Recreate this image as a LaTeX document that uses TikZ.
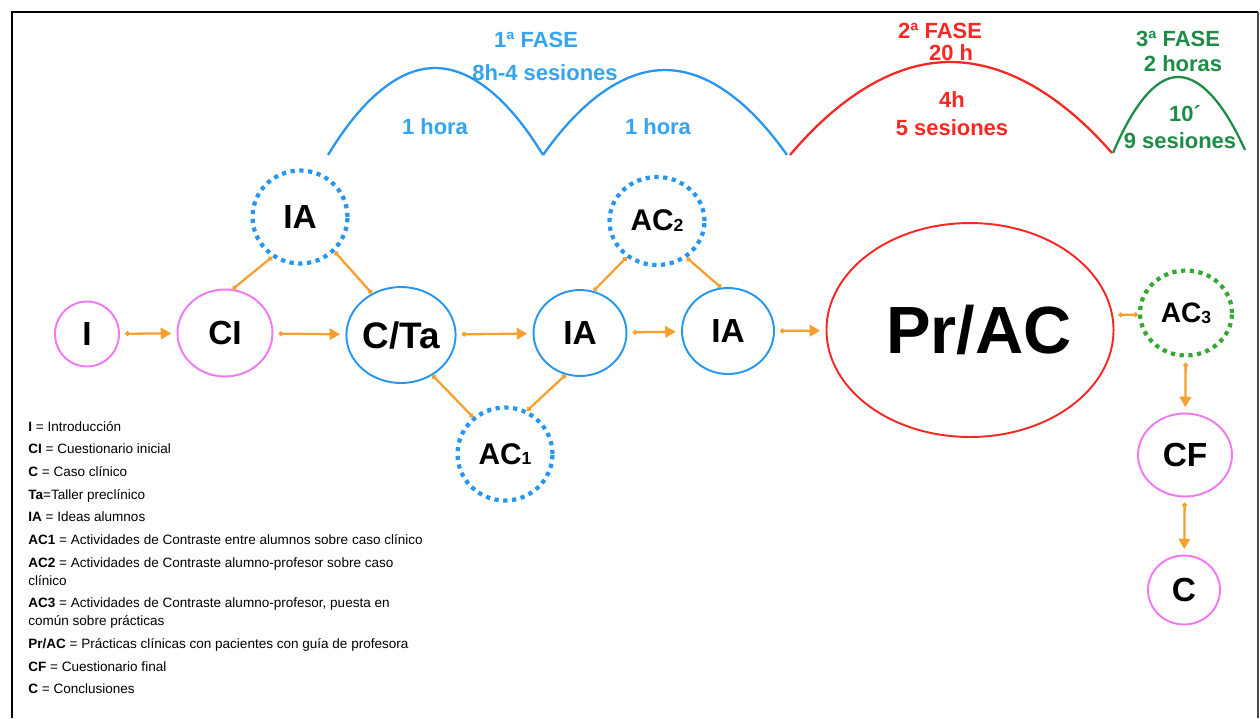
\documentclass[tikz,border=0pt]{standalone}
\usepackage{fontspec}
\setmainfont{Liberation Sans}
\usepackage{tikz}
\usetikzlibrary{shapes.geometric}
\usetikzlibrary{arrows.meta}
\usetikzlibrary{positioning}

\definecolor{naranja}{RGB}{247,160,48}
\definecolor{azul}{RGB}{38,150,240}
\definecolor{azultxt}{RGB}{52,163,240}
\definecolor{rojo}{RGB}{245,40,35}
\definecolor{verde}{RGB}{30,140,70}
\definecolor{verdecl}{RGB}{50,170,50}
\definecolor{rosa}{RGB}{240,120,240}

\newcommand{\subi}[1]{\raisebox{-0.5pt}{\fontsize{10}{10}\selectfont #1}}

\begin{document}
\begin{tikzpicture}[x=0.02cm, y=-0.02cm,
	nodo/.style={ellipse, draw, line width=1.1pt, inner sep=0pt, font=\fontsize{19}{19}\selectfont\bfseries},
	punteado/.style={ellipse, draw, line width=2.4pt, dash pattern=on 2.4pt off 2.6pt, inner sep=0pt, font=\fontsize{17}{17}\selectfont\bfseries},
	flecha/.style={naranja, line width=1.3pt, {Circle[length=2.6pt]}-{Triangle[length=6pt,width=6.5pt]}, shorten <=3pt, shorten >=3pt},
	linea/.style={naranja, line width=1.3pt, {Circle[length=2.6pt]}-{Circle[length=2.6pt]}},
	fase/.style={font=\fontsize{12.5}{14}\selectfont\bfseries, align=center},
	arco/.style={line width=1.3pt}]

	\useasboundingbox (0,0) rectangle (1260,718);

	% marco
	\draw[line width=1.4pt] (12,718) -- (12,12) -- (1258,12);
	\draw[black!70, line width=0.8pt] (1258,12) -- (1258,718);

	% arcos de las fases
	\draw[arco, azul] (328,155) parabola bend (435,68) (543,155);
	\draw[arco, azul] (543,155) parabola bend (665,70) (787,155);
	\draw[arco, rojo] (790,155) parabola bend (950,62) (1112,153);
	\draw[arco, verde] (1113,153) parabola bend (1178,77) (1245,150);

	\node[fase, azultxt] (f1) at (536,40) {1ª FASE};
	\node[fase, azultxt] (f1h) at (545,73) {8h-4 sesiones};
	\node[fase, azultxt] (h1) at (435,127) {1 hora};
	\node[fase, azultxt] (h2) at (658,127) {1 hora};

	\node[fase, rojo] (f2) at (940,31) {2ª FASE};
	\node[fase, rojo] (f2h) at (951,53) {20 h};
	\node[fase, rojo] (h3) at (952,100) {4h};
	\node[fase, rojo] (s3) at (952,128) {5 sesiones};

	\node[fase, verde] (f3) at (1178,39) {3ª FASE};
	\node[fase, verde] (f3h) at (1183,64) {2 horas};
	\node[fase, verde] (m4) at (1185,114) {10´};
	\node[fase, verde] (s4) at (1180,141) {9 sesiones};

	% nodos
	\node[nodo, rosa, text=black, minimum width=1.28cm, minimum height=1.3cm] (I) at (87,334) {I};
	\node[nodo, rosa, text=black, minimum width=1.9cm, minimum height=1.74cm] (CI) at (225,333) {CI};
	\node[punteado, azul, text=black, minimum width=1.9cm, minimum height=1.86cm] (IA1) at (300,217) {\fontsize{19}{19}\selectfont IA};
	\node[nodo, azul, text=black, minimum width=2.04cm, minimum height=1.92cm] (CTa) at (401,335) {\fontsize{21}{21}\selectfont C/Ta};
	\node[punteado, azul, text=black, minimum width=1.9cm, minimum height=1.86cm] (AC1) at (505,454) {AC\subi{1}};
	\node[nodo, azul, text=black, minimum width=1.86cm, minimum height=1.72cm] (IA2) at (580,333) {IA};
	\node[punteado, azul, text=black, minimum width=1.9cm, minimum height=1.76cm] (AC2) at (657,221) {AC\subi{2}};
	\node[nodo, azul, text=black, minimum width=1.84cm, minimum height=1.72cm] (IA3) at (728,331) {IA};
	\node[nodo, rojo, text=black, minimum width=5.4cm, minimum height=4.28cm, font=\fontsize{38}{38}\selectfont\bfseries] (PrAC) at (970,330) {\hspace{0.35cm}Pr/AC};
	\node[punteado, verdecl, text=black, minimum width=1.84cm, minimum height=1.7cm, font=\fontsize{16}{16}\selectfont\bfseries] (AC3) at (1186,313) {AC\subi{3}};
	\node[nodo, rosa, text=black, minimum width=1.88cm, minimum height=1.66cm] (CF) at (1185,455) {CF};
	\node[nodo, rosa, text=black, minimum width=1.44cm, minimum height=1.38cm] (C) at (1184,590) {C};

	% conexiones
	\draw[flecha] (I) -- (CI);
	\draw[flecha] (CI) -- (CTa);
	\draw[flecha] (CTa) -- (IA2);
	\draw[flecha] (IA2) -- (IA3);
	\draw[flecha] (IA3) -- (PrAC);
	\draw[linea, shorten <=3pt] (PrAC.6) -- (AC3.182);
	\draw[flecha] (AC3) -- (CF);
	\draw[flecha] (CF) -- (C);

	\draw[linea] (CI.80) -- (IA1.235);
	\draw[linea] (IA1.315) -- (CTa.125);
	\draw[linea] (CTa.308) -- (AC1.131);
	\draw[linea] (AC1.63) -- (IA2.251);
	\draw[linea] (IA2.72) -- (AC2.230);
	\draw[linea] (AC2.309) -- (IA3.99);

	% leyenda
	\node[anchor=north west, align=left, inner sep=0pt, font=\fontsize{7.7}{10.2}\selectfont] (ley) at (28,421) {%
		\textbf{I} = Introducción\\[2.7pt]
		\textbf{CI} = Cuestionario inicial\\[2.7pt]
		\textbf{C} = Caso clínico\\[2.7pt]
		\textbf{Ta}=Taller preclínico\\[2.7pt]
		\textbf{IA} = Ideas alumnos\\[2.7pt]
		\textbf{AC1} = Actividades de Contraste entre alumnos sobre caso clínico\\[2.7pt]
		\textbf{AC2} = Actividades de Contraste alumno-profesor sobre caso\\
		clínico\\[2.7pt]
		\textbf{AC3} = Actividades de Contraste alumno-profesor, puesta en\\
		común sobre prácticas\\[2.7pt]
		\textbf{Pr/AC} = Prácticas clínicas con pacientes con guía de profesora\\[2.7pt]
		\textbf{CF} = Cuestionario final\\[2.7pt]
		\textbf{C} = Conclusiones};

\end{tikzpicture}
\end{document}
